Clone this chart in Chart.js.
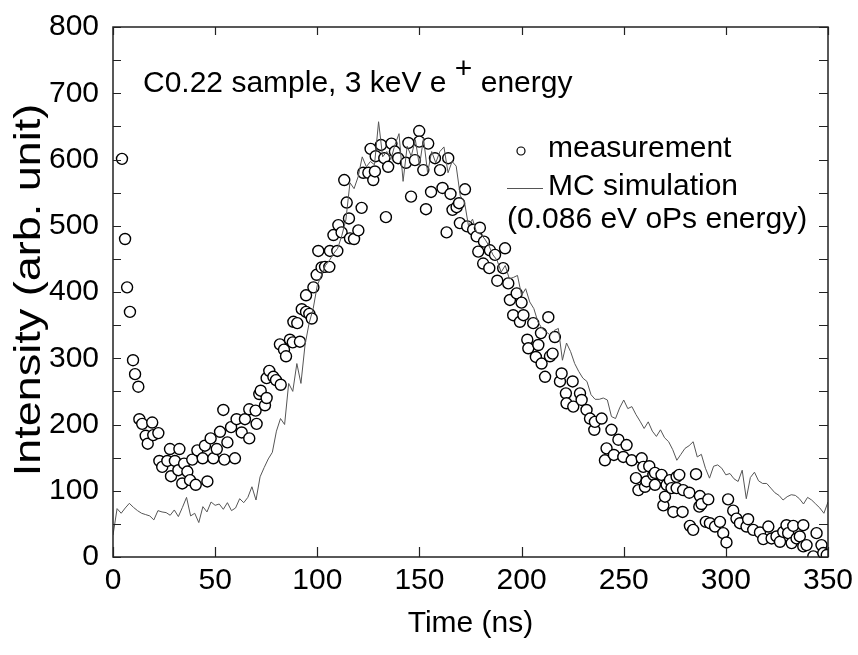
<!DOCTYPE html>
<html>
<head>
<meta charset="utf-8">
<script src="https://cdn.jsdelivr.net/npm/chart.js@4.4.1/dist/chart.umd.min.js"></script>
<style>
  html, body { margin: 0; padding: 0; background: #fff; }
</style>
</head>
<body>
<canvas id="chart" width="858" height="655"></canvas>
<script>
// measurement (open circles)
const measTime = [4.4, 5.9, 6.9, 8.3, 9.8, 10.8, 12.4, 12.9, 14.3, 16.0, 17.0, 19.2, 19.7, 22.2, 22.7, 24.1, 26.6, 27.9, 28.4, 30.3,
  32.0, 32.5, 33.9, 34.8, 36.4, 37.7, 38.8, 40.5, 41.3, 43.9, 45.0, 46.2, 47.8, 49.1, 50.8, 52.4, 54.0, 54.5, 56.0, 57.8,
  59.7, 60.5, 63.0, 64.6, 66.7, 66.7, 69.8, 70.3, 71.6, 72.3, 74.4, 75.2, 75.2, 76.5, 78.5, 79.8, 81.7, 82.1, 83.7, 84.7,
  86.6, 88.0, 88.3, 90.2, 91.5, 92.4, 94.5, 94.5, 96.1, 97.3, 98.1, 99.7, 100.5, 102.1, 103.8, 105.9, 106.2, 107.9, 109.8, 110.3,
  111.9, 113.2, 114.4, 115.5, 116.0, 118.0, 120.1, 121.7, 122.5, 125.0, 126.1, 127.4, 128.2, 128.6, 131.2, 132.8, 133.6, 134.7, 136.3, 138.0,
  139.6, 143.4, 144.6, 145.9, 147.8, 149.9, 149.9, 151.9, 153.2, 154.3, 155.7, 157.6, 160.1, 161.3, 163.3, 164.1, 165.2, 166.2, 168.2, 169.4,
  169.8, 172.3, 173.4, 176.3, 178.0, 178.8, 179.6, 181.2, 181.6, 184.2, 184.5, 187.0, 188.1, 191.0, 191.9, 193.5, 194.3, 195.9, 197.6, 199.2,
  200.0, 200.9, 202.8, 203.3, 205.7, 207.0, 208.2, 209.5, 209.8, 211.5, 213.1, 213.9, 215.2, 216.3, 218.8, 219.6, 221.7, 222.0, 225.0, 225.3,
  228.6, 229.4, 231.8, 233.5, 235.6, 235.9, 239.2, 240.8, 241.6, 244.0, 245.2, 247.4, 249.8, 251.4, 253.9, 256.0, 257.2, 258.8, 259.6, 260.4,
  261.2, 262.5, 264.5, 265.3, 265.3, 268.5, 269.4, 270.2, 271.0, 272.6, 273.4, 274.3, 275.9, 275.9, 277.2, 278.8, 279.1, 282.1, 282.4, 284.0,
  285.4, 287.0, 287.3, 288.1, 290.2, 291.4, 292.2, 294.7, 297.1, 298.7, 300.3, 301.1, 303.6, 305.2, 306.9, 310.1, 310.9, 313.4, 316.7, 318.3,
  320.8, 322.4, 324.8, 326.5, 328.1, 329.7, 330.5, 332.2, 333.0, 334.6, 336.2, 337.9, 337.9, 339.5, 342.8, 344.4, 346.8, 347.7, 349.4];
const measCounts = [601, 480, 407, 370, 297, 276, 257, 208, 201, 183, 171, 203, 184, 187, 145, 136, 145, 163, 122, 145,
  131, 163, 111, 141, 129, 116, 147, 109, 161, 149, 168, 114, 179, 149, 163, 189, 222, 147, 173, 196,
  149, 208, 188, 208, 179, 223, 221, 201, 246, 251, 229, 270, 240, 281, 272, 267, 321, 260, 313, 303,
  328, 324, 355, 353, 325, 374, 370, 395, 367, 360, 407, 426, 462, 437, 438, 438, 462, 486, 462, 501,
  490, 569, 535, 511, 481, 480, 493, 527, 580, 580, 616, 569, 582, 605, 622, 602, 513, 589, 624, 612,
  602, 595, 625, 544, 599, 643, 627, 584, 525, 624, 551, 602, 584, 557, 490, 602, 548, 524, 528, 534,
  504, 555, 499, 494, 484, 461, 497, 443, 476, 436, 463, 456, 417, 436, 466, 413, 388, 365, 398, 355,
  384, 365, 328, 315, 353, 302, 320, 338, 292, 272, 362, 303, 307, 332, 265, 277, 247, 232, 265, 227,
  247, 237, 222, 209, 192, 204, 209, 146, 164, 192, 154, 177, 151, 169, 146, 119, 101, 149, 136, 106,
  114, 137, 124, 127, 109, 124, 78, 91, 109, 116, 104, 68, 121, 104, 124, 68, 101, 97, 47, 41,
  125, 76, 92, 80, 53, 87, 51, 46, 53, 36, 22, 87, 70, 58, 51, 46, 57, 41, 37, 27,
  46, 28, 31, 23, 38, 48, 36, 21, 47, 28, 31, 48, 16, 18, 1, 36, 18, 6, 3];

// MC simulation (thin grey line)
const mcTime = [0, 2, 4, 6, 8, 10, 12, 14, 16, 18, 20, 22, 24, 26, 28, 30, 32, 34, 36, 38,
  40, 42, 44, 46, 48, 50, 52, 54, 56, 58, 60, 62, 64, 66, 68, 70, 72, 74, 76, 78,
  80, 82, 84, 86, 88, 90, 92, 94, 96, 98, 100, 102, 104, 106, 108, 110, 112, 114, 116, 118,
  120, 122, 124, 126, 128, 130, 132, 134, 136, 138, 140, 142, 144, 146, 148, 150, 152, 154, 156, 158,
  160, 162, 164, 166, 168, 170, 172, 174, 176, 178, 180, 182, 184, 186, 188, 190, 192, 194, 196, 198,
  200, 202, 204, 206, 208, 210, 212, 214, 216, 218, 220, 222, 224, 226, 228, 230, 232, 234, 236, 238,
  240, 242, 244, 246, 248, 250, 252, 254, 256, 258, 260, 262, 264, 266, 268, 270, 272, 274, 276, 278,
  280, 282, 284, 286, 288, 290, 292, 294, 296, 298, 300, 302, 304, 306, 308, 310, 312, 314, 316, 318,
  320, 322, 324, 326, 328, 330, 332, 334, 336, 338, 340, 342, 344, 346, 348, 350];
const mcCounts = [33, 73, 66, 74, 81, 75, 70, 66, 64, 62, 56, 70, 68, 67, 63, 71, 61, 75, 90, 62,
  66, 52, 76, 68, 83, 78, 80, 72, 82, 70, 74, 88, 82, 90, 106, 86, 121, 135, 148, 158,
  190, 209, 200, 262, 250, 292, 262, 320, 353, 375, 410, 425, 440, 448, 458, 466, 485, 509, 565, 556,
  574, 604, 589, 597, 592, 657, 604, 612, 600, 622, 639, 567, 620, 605, 630, 590, 632, 580, 612, 595,
  612, 619, 580, 597, 590, 545, 537, 500, 510, 490, 487, 480, 470, 456, 448, 430, 440, 420, 422, 425,
  395, 405, 385, 375, 355, 345, 340, 335, 342, 345, 297, 323, 310, 292, 280, 270, 265, 245, 238, 238,
  240, 237, 212, 209, 225, 237, 224, 227, 215, 205, 194, 204, 190, 182, 192, 180, 174, 162, 146, 155,
  164, 168, 174, 151, 155, 134, 119, 137, 139, 134, 124, 126, 118, 114, 131, 88, 120, 128, 115, 111,
  111, 104, 97, 93, 86, 91, 94, 93, 88, 80, 90, 86, 80, 74, 66, 83];

const xTickValues = [0, 50, 100, 150, 200, 250, 300, 350];
const yTickValues = [0, 100, 200, 300, 400, 500, 600, 700, 800];
const yTickMarks = [0, 50, 100, 150, 200, 250, 300, 350, 400, 450, 500, 550, 600, 650, 700, 750, 800];

const sans = "'Liberation Sans', Arial, sans-serif";

// frame, inward ticks, y title, in-plot title and legend
const decor = {
  id: 'decor',
  afterDatasetsDraw(chart) {
    const { ctx, chartArea: a, scales: { x, y } } = chart;
    ctx.save();
    ctx.strokeStyle = '#222';
    ctx.lineWidth = 1.5;
    ctx.strokeRect(a.left, a.top, a.right - a.left, a.bottom - a.top);
    ctx.lineWidth = 1.2;
    ctx.beginPath();
    xTickValues.forEach(v => {
      const px = Math.round(x.getPixelForValue(v)) + 0.5;
      ctx.moveTo(px, a.bottom); ctx.lineTo(px, a.bottom - 10);
      ctx.moveTo(px, a.top); ctx.lineTo(px, a.top + 8);
    });
    yTickMarks.forEach(v => {
      const py = Math.round(y.getPixelForValue(v)) + 0.5;
      ctx.moveTo(a.left, py); ctx.lineTo(a.left + 8, py);
      ctx.moveTo(a.right, py); ctx.lineTo(a.right - 9, py);
    });
    ctx.stroke();
    ctx.restore();
  },
  afterDraw(chart) {
    const { ctx } = chart;
    ctx.save();
    ctx.fillStyle = '#000';
    ctx.textBaseline = 'alphabetic';

    // y axis title, stretched along its length like the original
    ctx.save();
    ctx.translate(40, 290);
    ctx.rotate(-Math.PI / 2);
    ctx.scale(1.25, 1);
    ctx.font = '36px ' + sans;
    ctx.textAlign = 'center';
    ctx.fillText('Intensity (arb. unit)', 0, 0);
    ctx.restore();

    ctx.textAlign = 'left';
    ctx.font = '30px ' + sans;
    const head = 'C0.22 sample, 3 keV e';
    const sp = ctx.measureText(' ').width;
    ctx.fillText(head, 143, 92);
    let cx = 143 + ctx.measureText(head).width + sp;
    ctx.fillText('+', cx, 78);
    cx += ctx.measureText('+').width + sp;
    ctx.fillText('energy', cx, 92);

    // legend
    ctx.beginPath();
    ctx.arc(521, 151, 4, 0, Math.PI * 2);
    ctx.fillStyle = '#fff';
    ctx.fill();
    ctx.strokeStyle = '#000';
    ctx.lineWidth = 1.2;
    ctx.stroke();
    ctx.beginPath();
    ctx.moveTo(507, 188.5); ctx.lineTo(543, 188.5);
    ctx.strokeStyle = '#555';
    ctx.lineWidth = 1;
    ctx.stroke();
    ctx.fillStyle = '#000';
    ctx.fillText('measurement', 548, 157);
    ctx.fillText('MC simulation', 548, 195);
    ctx.fillText('(0.086 eV oPs energy)', 507, 228);
    ctx.restore();
  }
};

new Chart(document.getElementById('chart'), {
  type: 'scatter',
  data: {
    datasets: [
      {
        label: 'MC simulation',
        data: mcTime.map((t, i) => ({ x: t, y: mcCounts[i] })),
        showLine: true,
        borderColor: '#555',
        borderWidth: 1,
        pointRadius: 0,
        tension: 0
      },
      {
        label: 'measurement',
        data: measTime.map((t, i) => ({ x: t, y: measCounts[i] })),
        pointStyle: 'circle',
        pointRadius: 5.5,
        pointBorderWidth: 1.4,
        pointBorderColor: '#000',
        pointBackgroundColor: '#fff'
      }
    ]
  },
  options: {
    responsive: false,
    animation: false,
    devicePixelRatio: 1,
    layout: { padding: { top: 27, right: 30, bottom: 0, left: 0 } },
    plugins: {
      legend: { display: false },
      tooltip: { enabled: false }
    },
    scales: {
      x: {
        type: 'linear',
        min: 0,
        max: 350,
        afterBuildTicks: s => { s.ticks = xTickValues.map(v => ({ value: v })); },
        afterFit: s => { s.height = 98; s.paddingLeft = 0; s.paddingRight = 0; },
        grid: { display: false, drawTicks: false },
        border: { display: false },
        ticks: { color: '#000', font: { family: sans, size: 30 }, padding: 6, maxRotation: 0, autoSkip: false },
        title: { display: true, text: 'Time (ns)', color: '#000', font: { family: sans, size: 30 }, padding: { top: 0, bottom: 13 } }
      },
      y: {
        type: 'linear',
        min: 0,
        max: 800,
        afterBuildTicks: s => { s.ticks = yTickValues.map(v => ({ value: v })); },
        afterFit: s => { s.width = 113; s.paddingTop = 0; s.paddingBottom = 0; },
        grid: { display: false, drawTicks: false },
        border: { display: false },
        ticks: { color: '#000', font: { family: sans, size: 30 }, padding: 14 },
        title: { display: false }
      }
    }
  },
  plugins: [decor]
});
</script>
</body>
</html>
